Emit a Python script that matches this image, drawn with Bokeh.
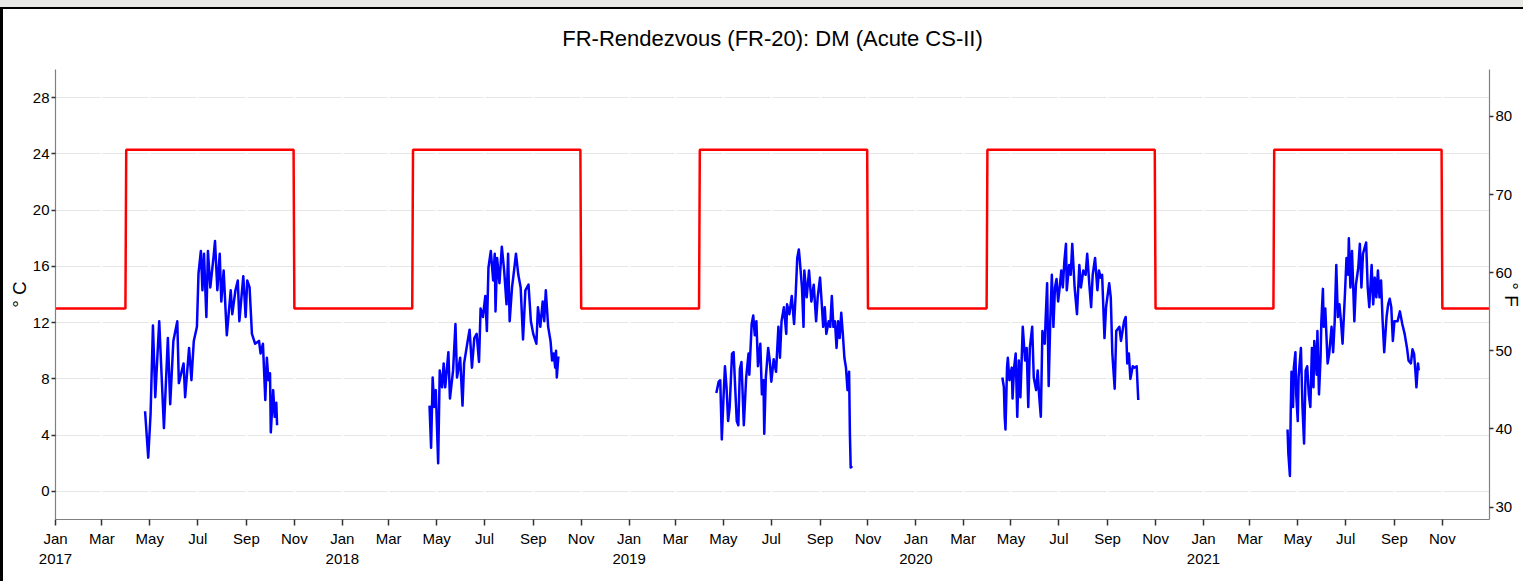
import pandas as pd
from bokeh.plotting import figure
from bokeh.models import Range1d, LinearAxis, FixedTicker, Grid
from bokeh.embed import file_html
from bokeh.resources import INLINE

# ---------------- data ----------------
title_text = "FR-Rendezvous (FR-20): DM (Acute CS-II)"
years = [2017, 2018, 2019, 2020, 2021]

# threshold (°C): low outside season, high Apr 1 – Oct 31
thr_low = 13.0
thr_high = 24.3
thr_season_start = "04-01"
thr_season_end = "10-31"

doy_2017 = [115, 119, 122, 125, 128, 133, 139, 144, 147, 151, 156, 158, 164, 166, 171, 174, 177, 181, 183, 186,
            188, 190, 193, 195, 198, 202, 204, 207, 210, 212, 215, 219, 224, 226, 230, 233, 235, 240, 243, 245,
            248, 251, 255, 260, 262, 265, 268, 270, 272, 274, 275, 278, 280, 282, 283]
t_2017 = [5.7, 2.4, 5.5, 11.8, 6.7, 12.1, 4.5, 10.9, 6.2, 10.7, 12.1, 7.7, 9.1, 6.7, 10.2, 7.9, 10.7, 11.7, 15.5, 17.1,
          14.3, 16.9, 12.4, 17.1, 14.5, 16.6, 17.8, 14.3, 16.9, 13.5, 15.7, 11.1, 14.3, 12.6, 14.3, 15.0, 12.1, 15.3, 12.4, 15.0,
          14.5, 11.2, 10.5, 10.7, 9.8, 10.5, 6.5, 9.5, 7.9, 8.4, 4.2, 7.2, 5.3, 6.3, 4.7]

doy_2018 = [112, 114, 116, 118, 120, 123, 125, 128, 130, 132, 136, 138, 142, 145, 147, 151, 154, 156, 160, 163,
            166, 169, 172, 175, 177, 180, 183, 185, 187, 190, 193, 195, 196, 198, 201, 204, 207, 210, 212, 214,
            217, 220, 222, 225, 228, 231, 234, 238, 241, 244, 248, 250, 253, 256, 258, 260, 263, 266, 268, 270,
            272, 273, 274, 276]
t_2018 = [6.1, 3.1, 8.1, 6.0, 7.2, 2.0, 8.6, 7.4, 9.1, 7.4, 9.9, 6.6, 8.6, 11.9, 8.1, 9.5, 6.1, 9.1, 10.5, 11.5,
          8.8, 10.9, 11.2, 9.2, 13.0, 12.4, 13.9, 11.4, 15.9, 17.1, 15.0, 16.9, 12.8, 16.6, 14.8, 17.4, 15.7, 13.3, 16.9, 12.1,
          14.5, 15.9, 16.9, 15.4, 14.5, 10.8, 14.3, 14.7, 12.1, 11.2, 10.5, 13.1, 11.7, 13.5, 12.1, 14.3, 11.7, 10.7, 9.3, 9.8,
          8.8, 10.0, 8.1, 9.6]

doy_2019 = [112, 115, 117, 119, 121, 123, 125, 127, 129, 132, 134, 136, 138, 140, 142, 144, 147, 150, 153, 154,
            157, 159, 161, 163, 165, 168, 170, 172, 173, 175, 178, 180, 182, 185, 188, 191, 193, 195, 198, 201,
            202, 205, 208, 211, 213, 215, 217, 218, 221, 223, 224, 227, 230, 233, 236, 239, 241, 244, 246, 248,
            250, 252, 255, 257, 259, 261, 263, 265, 267, 269, 271, 273, 275, 277, 279, 281, 282, 283, 285]
t_2019 = [7.0, 7.8, 7.9, 3.7, 6.5, 8.9, 7.4, 5.0, 6.0, 9.8, 9.9, 7.4, 5.0, 4.7, 8.7, 9.2, 4.7, 8.1, 9.8, 8.3,
          11.9, 12.5, 11.1, 12.1, 8.9, 10.5, 6.9, 7.9, 4.1, 8.1, 10.2, 9.3, 7.8, 9.4, 8.5, 11.7, 9.5, 12.1, 13.1, 11.2,
          13.3, 12.6, 13.9, 11.9, 14.0, 16.6, 17.2, 16.6, 14.5, 11.7, 15.7, 13.8, 15.7, 13.5, 14.7, 12.1, 13.8, 15.2, 13.5, 11.7,
          13.1, 11.2, 12.1, 11.7, 13.9, 11.7, 12.1, 10.2, 12.1, 10.9, 12.7, 11.2, 9.5, 8.8, 7.2, 8.5, 4.1, 1.7, 1.8]

doy_2020 = [111, 113, 114, 115, 117, 118, 120, 123, 124, 126, 128, 130, 132, 134, 137, 140, 142, 144, 146, 149,
            151, 154, 156, 158, 160, 162, 165, 166, 168, 170, 172, 174, 176, 178, 180, 182, 184, 186, 188, 190,
            192, 193, 196, 198, 200, 203, 206, 209, 211, 214, 217, 219, 222, 224, 226, 229, 232, 234, 236, 238,
            241, 243, 247, 249, 251, 254, 256, 260, 262, 264, 266, 268, 270, 272, 274, 277, 279, 282, 284]
t_2020 = [8.1, 7.4, 5.3, 4.4, 8.8, 9.5, 7.9, 8.8, 6.6, 8.8, 9.8, 5.3, 9.3, 6.7, 11.7, 9.3, 10.2, 6.0, 10.2, 11.7,
          8.1, 7.2, 8.6, 6.7, 5.3, 11.4, 10.5, 12.1, 14.8, 7.5, 12.1, 15.4, 11.7, 14.5, 15.1, 13.5, 14.5, 15.7, 14.5, 16.4,
          17.6, 14.3, 16.1, 15.4, 17.6, 14.5, 12.6, 16.1, 14.5, 15.7, 15.4, 16.9, 14.5, 13.1, 15.4, 16.6, 14.3, 15.7, 15.2, 15.4,
          10.9, 13.1, 14.8, 13.8, 9.8, 7.3, 11.4, 11.7, 10.7, 11.4, 12.1, 12.4, 9.1, 9.8, 8.0, 8.9, 8.8, 8.9, 6.5]

doy_2021 = [108, 109, 111, 112, 113, 115, 116, 118, 119, 121, 122, 125, 127, 129, 131, 133, 135, 137, 139, 141,
            142, 145, 146, 148, 150, 151, 153, 154, 156, 159, 161, 164, 166, 168, 170, 172, 174, 176, 178, 181,
            183, 185, 186, 188, 190, 193, 195, 198, 200, 202, 204, 206, 208, 210, 212, 215, 217, 219, 221, 223,
            225, 227, 229, 231, 234, 236, 238, 240, 242, 244, 248, 251, 254, 257, 260, 262, 265, 267, 269, 271,
            272, 274, 275]
t_2021 = [4.4, 2.7, 1.1, 5.5, 8.5, 6.0, 8.8, 9.9, 6.9, 5.0, 8.1, 10.2, 6.0, 3.4, 8.6, 8.9, 6.9, 6.0, 10.2, 7.4,
          10.7, 8.3, 11.4, 6.9, 9.5, 12.1, 14.4, 11.7, 13.0, 9.1, 9.8, 11.7, 9.9, 12.1, 16.1, 12.4, 13.3, 12.1, 10.5, 14.0,
          16.6, 15.4, 18.0, 14.5, 17.1, 12.1, 14.7, 15.9, 17.6, 14.5, 16.9, 17.3, 17.7, 14.5, 13.1, 16.1, 13.3, 15.2, 13.8, 15.7,
          13.8, 15.0, 12.1, 9.9, 12.4, 13.3, 13.7, 13.1, 10.7, 12.1, 12.1, 12.8, 11.9, 11.2, 10.2, 9.3, 9.1, 10.1, 9.8, 8.3,
          7.4, 9.1, 8.6]

series = {2017: (doy_2017, t_2017), 2018: (doy_2018, t_2018), 2019: (doy_2019, t_2019),
          2020: (doy_2020, t_2020), 2021: (doy_2021, t_2021)}

c_ticks = [0, 4, 8, 12, 16, 20, 24, 28]
f_ticks = [30, 40, 50, 60, 70, 80]
month_ticks = ["01", "03", "05", "07", "09", "11"]
month_names = {"01": "Jan", "03": "Mar", "05": "May", "07": "Jul", "09": "Sep", "11": "Nov"}
x_start = "2017-01-01"
x_end = "2021-12-31"
c_min, c_max = -2, 30

# ---------------- build ----------------
FONT = "'Liberation Sans', Arial, sans-serif"


def ms(ts):
    return int(pd.Timestamp(ts).value // 10**6)


p = figure(width=1523, height=574, x_axis_type="datetime",
           x_range=Range1d(pd.Timestamp(x_start), pd.Timestamp(x_end)),
           y_range=Range1d(c_min, c_max),
           output_backend="svg", toolbar_location=None,
           min_border_left=52, min_border_right=37, min_border_top=59, min_border_bottom=64,
           title=title_text)
p.outline_line_color = None
p.background_fill_color = "white"
p.border_fill_color = "white"
p.styles = {"margin-top": "7px", "border-left": "3px solid black", "border-top": "2px solid black",
            "box-shadow": "0 -7px 0 0 #e8e9e4"}

p.title.align = "center"
p.title.vertical_align = "top"
p.title.text_font = FONT
p.title.text_font_style = "normal"
p.title.text_font_size = "22px"
p.title.text_color = "black"
p.title.standoff = 33

# threshold step line
thr_x, thr_y = [], []
for yr in years:
    thr_x += [pd.Timestamp(f"{yr}-01-01"), pd.Timestamp(f"{yr}-{thr_season_start}") - pd.Timedelta(days=1),
              pd.Timestamp(f"{yr}-{thr_season_start}"), pd.Timestamp(f"{yr}-{thr_season_end}"),
              pd.Timestamp(f"{yr}-{thr_season_end}") + pd.Timedelta(days=1), pd.Timestamp(f"{yr}-12-31")]
    thr_y += [thr_low, thr_low, thr_high, thr_high, thr_low, thr_low]
p.line(thr_x, thr_y, line_color="#ff0000", line_width=2.5)

# temperature series
for yr in years:
    doys, vals = series[yr]
    xs = [pd.Timestamp(f"{yr}-01-01") + pd.Timedelta(days=d - 1) for d in doys]
    p.line(xs, vals, line_color="#0000ff", line_width=2.5, line_join="round")

# x axis ticks and labels
tick_ms = []
overrides = {}
for yr in years:
    for m in month_ticks:
        t = ms(f"{yr}-{m}-01")
        tick_ms.append(t)
        overrides[t] = f"{month_names[m]}\n{yr}" if m == "01" else month_names[m]
xticker = FixedTicker(ticks=tick_ms)
xa = p.xaxis[0]
xa.ticker = xticker
xa.major_label_overrides = overrides

ya = p.yaxis[0]
ya.ticker = FixedTicker(ticks=c_ticks)
ya.axis_label = "° C"

p.extra_y_ranges = {"F": Range1d(c_min * 9 / 5 + 32, c_max * 9 / 5 + 32)}
ra = LinearAxis(y_range_name="F", ticker=FixedTicker(ticks=f_ticks), axis_label="° F")
p.add_layout(ra, "right")

for ax in [xa, ya, ra]:
    ax.axis_line_color = "#808080"
    ax.axis_line_width = 1.2
    ax.major_tick_line_color = "#333333"
    ax.major_tick_line_width = 1.5
    ax.major_tick_in = 0
    ax.major_tick_out = 4
    ax.minor_tick_line_color = None
    ax.major_label_text_font = FONT
    ax.major_label_text_font_size = "15px"
    ax.major_label_text_color = "black"
    ax.major_label_standoff = 5
    ax.axis_label_text_font = FONT
    ax.axis_label_text_font_size = "19px"
    ax.axis_label_text_font_style = "normal"
    ax.axis_label_text_color = "black"
    ax.axis_label_standoff = 5
xa.major_tick_out = 6
xa.major_label_standoff = 4
ya.major_label_standoff = 2
ya.axis_label_standoff = 0
ra.major_label_standoff = 2
ra.axis_label_standoff = -14

# grids
p.xgrid.visible = False
p.ygrid[0].ticker = FixedTicker(ticks=c_ticks)
p.ygrid[0].grid_line_color = "#e6e6e6"
p.ygrid[0].grid_line_width = 1.2
vgrid = Grid(dimension=0, ticker=xticker, grid_line_color="white", grid_line_width=2)
p.add_layout(vgrid, "center")

open("out.html", "w").write(file_html(p, INLINE))
